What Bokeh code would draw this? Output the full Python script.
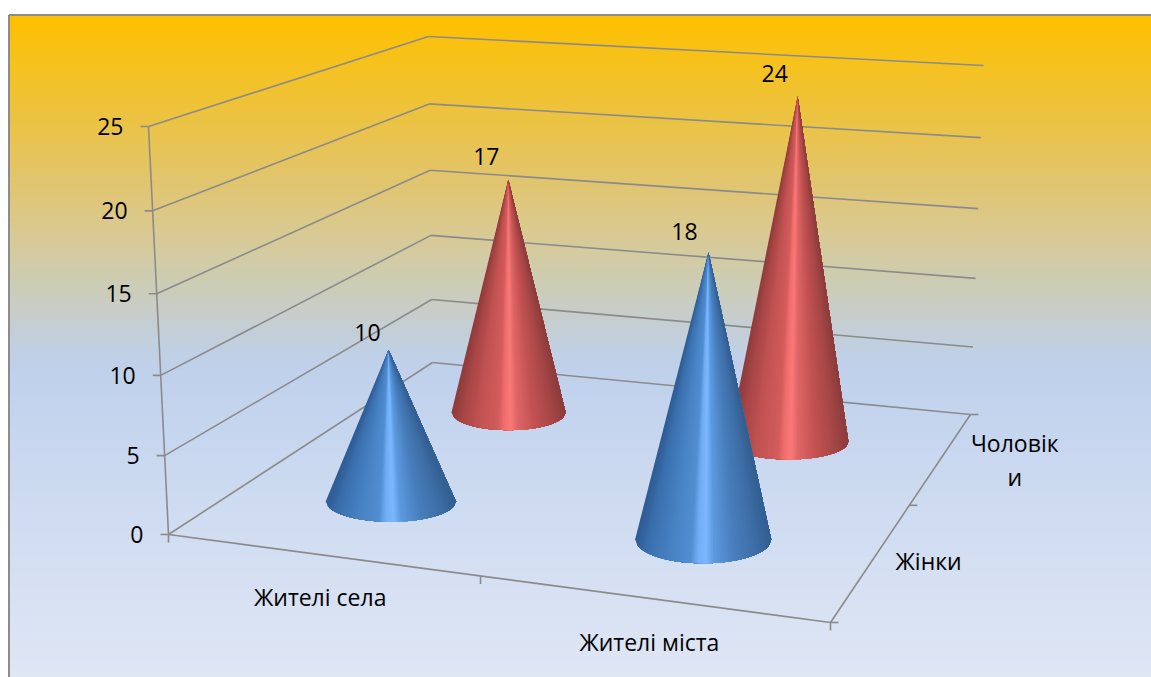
from bokeh.plotting import figure
from bokeh.embed import file_html
from bokeh.resources import INLINE
from bokeh.core.properties import value
import numpy as np

# Chart values
CATEGORIES = ["Жителі села", "Жителі міста"]
SERIES = ["Жінки", "Чоловіки"]
WOMEN = [10, 18]
MEN = [17, 24]
VALUE_TICKS = [0, 5, 10, 15, 20, 25]
VALUE_MAX = 25

W, H = 1151, 677
FONT = value("Open Sans")
FONT_PX = "23px"
GRID = "#8b8b8b"


def homography(dst):
    """Map the unit square (u along categories, d along depth) to four page points."""
    src = [(0, 0), (1, 0), (1, 1), (0, 1)]
    a, b = [], []
    for (u, v), (x, y) in zip(src, dst):
        a.append([u, v, 1, 0, 0, 0, -u * x, -v * x])
        a.append([0, 0, 0, u, v, 1, -u * y, -v * y])
        b += [x, y]
    return np.append(np.linalg.solve(np.array(a, float), np.array(b, float)), 1).reshape(3, 3)


# Box corners on the page: front-left, front-right, back-right, back-left
FLOOR = homography([(168, 534), (830, 622), (970, 414), (432, 362)])
ROOF = homography([(148, 126), (820, 185), (983, 65), (428, 36)])


def plane(m, u, d):
    p = m @ np.array([u, d, 1.0])
    return p[:2] / p[2]


def project(u, d, v=0.0):
    a, b = plane(FLOOR, u, d), plane(ROOF, u, d)
    t = v / VALUE_MAX
    # Slight foreshortening of the value axis
    return a + (b - a) * t / (1 + 0.0427 * (1 - t))


p = figure(width=W, height=H, x_range=(0, W), y_range=(H, 0), output_backend="svg",
           toolbar_location=None, min_border=0, outline_line_color=None,
           background_fill_color="white", border_fill_color="white")
p.axis.visible = False
p.grid.visible = False

# Panel background with its vertical colour ramp
LEFT, TOP = 8.5, 14.5
ramp_y = [15, 60, 120, 190, 230, 280, 320, 350, 370, 450, 677]
ramp_rgb = np.array([[255, 192, 0], [247, 194, 30], [236, 195, 68], [224, 198, 118],
                     [218, 202, 146], [205, 205, 180], [198, 206, 208], [193, 208, 228],
                     [192, 209, 236], [201, 216, 240], [224, 231, 245]], float)
rows = np.arange(TOP, H, 2.0)
row_fill = ["#%02x%02x%02x" % tuple(int(np.interp(y, ramp_y, ramp_rgb[:, c])) for c in range(3))
            for y in rows]
p.quad(left=LEFT, right=W, top=rows, bottom=rows + 2.0, fill_color=row_fill, line_color=row_fill,
       line_width=0.5)
p.line([LEFT, LEFT], [H, TOP], line_color="#8c8c8c", line_width=2)
p.line([LEFT, W], [TOP, TOP], line_color="#8c8c8c", line_width=2)


def seg(a, b, width=1.6):
    p.line([a[0], b[0]], [a[1], b[1]], line_color=GRID, line_width=width)


# Gridlines running along the side wall and the back wall
for v in VALUE_TICKS:
    fl, bl, br = project(0, 0, v), project(0, 1, v), project(1, 1, v)
    seg(fl, bl)
    seg(bl, br)
    seg(fl + (-8, 0), fl)
    p.text([fl[0] - 25], [fl[1]], text=[str(v)], text_font=FONT, text_font_size=FONT_PX,
           text_align="right", text_baseline="middle", text_color="black")

# Box edges and tick marks
seg(project(0, 0), project(0, 0, VALUE_MAX))
seg(project(0, 0), project(1, 0))
seg(project(1, 0), project(1, 1))
for u in (0, 0.5, 1):
    a = project(u, 0)
    seg(a, a + (0, 8))
for d in (0, 0.5, 1):
    a = project(1, d)
    seg(a, a + (8, 0))

# Cone shading across the width of each cone, from left rim to right rim
SHADE_T = [-1, -0.82, -0.5, -0.18, -0.08, 0.04, 0.16, 0.45, 0.8, 1]
BLUE_RAMP = np.array([[0x2f, 0x5c, 0x93], [0x3b, 0x70, 0xaf], [0x47, 0x82, 0xc3], [0x52, 0x8f, 0xd2],
                      [0x72, 0xae, 0xf5], [0x7d, 0xb8, 0xff], [0x5c, 0x9a, 0xe0], [0x4a, 0x80, 0xbf],
                      [0x3d, 0x6d, 0xa5], [0x33, 0x5f, 0x91]], float)
RED_RAMP = np.array([[0x8f, 0x3c, 0x3c], [0xa8, 0x46, 0x46], [0xc4, 0x54, 0x54], [0xd4, 0x5c, 0x5c],
                     [0xf0, 0x6e, 0x6e], [0xfb, 0x79, 0x79], [0xe0, 0x66, 0x66], [0xc4, 0x53, 0x53],
                     [0xa4, 0x46, 0x46], [0x8c, 0x3c, 0x3c]], float)


def cone(u, d, val, half_width, half_depth, ramp, lean, label_offset, base_shift=(0, 0)):
    base = project(u, d) + base_shift
    tip = project(u, d, val) + lean
    edges = np.linspace(-1, 1, 81)
    xs, ys, fills = [], [], []
    # Each strip runs to the right rim and is overpainted by the next, which leaves no seams
    for t0, t1 in zip(edges[:-1], edges[1:]):
        ts = np.linspace(t0, 1, max(3, int((1 - t0) * 30)))
        xs.append([tip[0]] + list(base[0] + half_width * ts))
        ys.append([tip[1]] + list(base[1] + half_depth * np.sqrt(np.clip(1 - ts ** 2, 0, 1))))
        tm = (t0 + t1) / 2
        fills.append("#%02x%02x%02x" % tuple(int(np.interp(tm, SHADE_T, ramp[:, c])) for c in range(3)))
    p.patches(xs, ys, fill_color=fills, line_color=None)
    p.text([tip[0] + label_offset[0]], [tip[1] + label_offset[1]], text=[str(val)], text_font=FONT,
           text_font_size=FONT_PX, text_align="center", text_baseline="middle", text_color="black")


# Back row first so the front row overlaps it
cone(0.25, 0.75, MEN[0], 57, 18, RED_RAMP, (7, 2), (-22, -23))
cone(0.75, 0.75, MEN[1], 60, 18, RED_RAMP, (11, 1.5), (-23, -23), base_shift=(-2, 0))
cone(0.25, 0.25, WOMEN[0], 65, 20.5, BLUE_RAMP, (6, 1), (-21, -17))
cone(0.75, 0.25, WOMEN[1], 68, 24, BLUE_RAMP, (17, 1), (-24, -21))


def label(lines, anchor, dx, dy):
    for i, line in enumerate(lines):
        p.text([anchor[0] + dx], [anchor[1] + dy + i * 34], text=[line], text_font=FONT,
               text_font_size=FONT_PX, text_align="center", text_baseline="middle", text_color="black")


label([CATEGORIES[0]], project(0.25, 0), 0, 42)
label([CATEGORIES[1]], project(0.75, 0), -1, 43)
label([SERIES[0]], project(1, 0.25), 56, 1)
label([SERIES[1][:7], SERIES[1][7:]], project(1, 0.75), 73, -14)

open("out.html", "w").write(file_html(p, INLINE))
